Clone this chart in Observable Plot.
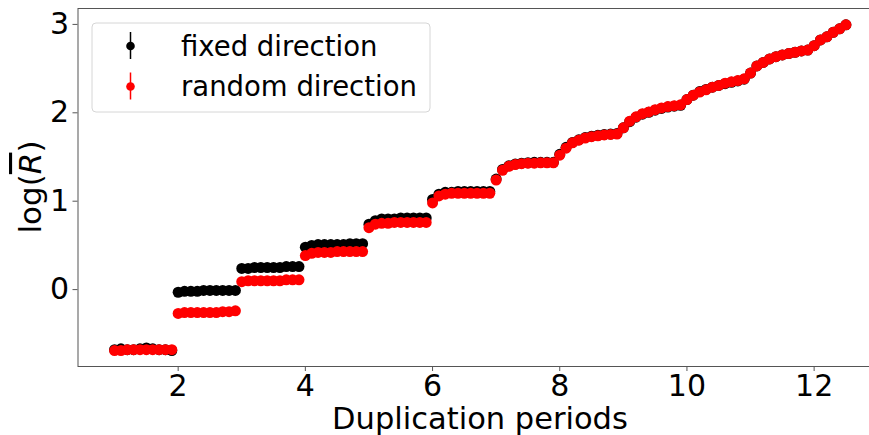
<!DOCTYPE html>
<html><head><meta charset="utf-8">
<script src="https://cdn.jsdelivr.net/npm/d3@7"></script>
<script src="https://cdn.jsdelivr.net/npm/@observablehq/plot@0.6"></script>
<style>html,body{margin:0;padding:0;overflow:hidden;background:#fff;}</style>
</head><body><div id="chart"></div>
<script>
const periods = [
  1.0,1.1,1.2,1.3,1.4,1.5,1.6,1.7,1.8,1.9,
  2.0,2.1,2.2,2.3,2.4,2.5,2.6,2.7,2.8,2.9,
  3.0,3.1,3.2,3.3,3.4,3.5,3.6,3.7,3.8,3.9,
  4.0,4.1,4.2,4.3,4.4,4.5,4.6,4.7,4.8,4.9,
  5.0,5.1,5.2,5.3,5.4,5.5,5.6,5.7,5.8,5.9,
  6.0,6.1,6.2,6.3,6.4,6.5,6.6,6.7,6.8,6.9,
  7.0,7.1,7.2,7.3,7.4,7.5,7.6,7.7,7.8,7.9,
  8.0,8.1,8.2,8.3,8.4,8.5,8.6,8.7,8.8,8.9,
  9.0,9.1,9.2,9.3,9.4,9.5,9.6,9.7,9.8,9.9,
  10.0,10.1,10.2,10.3,10.4,10.5,10.6,10.7,10.8,10.9,
  11.0,11.1,11.2,11.3,11.4,11.5,11.6,11.7,11.8,11.9,
  12.0,12.1,12.2,12.3,12.4,12.5
];
const fixedDirection = [
  -0.68,-0.67,-0.68,-0.68,-0.67,-0.66,-0.67,-0.68,-0.68,-0.69,
  -0.03,-0.02,-0.02,-0.02,-0.01,-0.01,-0.01,-0.01,-0.01,-0.01,
  0.24,0.24,0.25,0.25,0.25,0.25,0.25,0.26,0.26,0.26,
  0.48,0.50,0.51,0.51,0.51,0.51,0.51,0.52,0.52,0.52,
  0.74,0.78,0.80,0.80,0.80,0.81,0.81,0.81,0.81,0.81,
  1.02,1.08,1.10,1.10,1.11,1.11,1.11,1.11,1.11,1.11,
  1.25,1.36,1.40,1.42,1.43,1.435,1.44,1.44,1.44,1.44,
  1.53,1.61,1.665,1.695,1.72,1.735,1.745,1.755,1.76,1.765,
  1.83,1.90,1.95,1.985,2.005,2.03,2.05,2.065,2.075,2.085,
  2.15,2.20,2.24,2.265,2.29,2.31,2.33,2.345,2.36,2.38,
  2.45,2.53,2.57,2.61,2.635,2.655,2.67,2.685,2.70,2.71,
  2.76,2.825,2.86,2.91,2.95,2.995
];
const randomDirection = [
  -0.69,-0.69,-0.68,-0.68,-0.68,-0.68,-0.68,-0.68,-0.68,-0.68,
  -0.27,-0.26,-0.26,-0.26,-0.26,-0.26,-0.26,-0.25,-0.25,-0.24,
  0.09,0.10,0.10,0.10,0.10,0.10,0.10,0.11,0.11,0.11,
  0.385,0.41,0.42,0.42,0.42,0.43,0.43,0.43,0.43,0.43,
  0.70,0.74,0.75,0.75,0.76,0.76,0.76,0.76,0.76,0.76,
  0.98,1.06,1.08,1.09,1.09,1.09,1.09,1.09,1.09,1.09,
  1.24,1.35,1.395,1.415,1.425,1.43,1.43,1.435,1.435,1.435,
  1.52,1.60,1.66,1.69,1.715,1.73,1.74,1.75,1.755,1.76,
  1.83,1.905,1.955,1.99,2.01,2.035,2.055,2.07,2.08,2.09,
  2.15,2.20,2.235,2.26,2.29,2.31,2.335,2.35,2.365,2.385,
  2.45,2.53,2.57,2.61,2.635,2.655,2.67,2.685,2.70,2.71,
  2.76,2.825,2.86,2.91,2.95,2.995
];
const xTicks = [2,4,6,8,10,12];
const yTicks = [0,1,2,3];
const seriesNames = ["fixed direction", "random direction"];
const seriesColors = ["black", "#ff0000"];

const rows = periods.map((p, i) => ({p, fixed: fixedDirection[i], random: randomDirection[i]}));

const W = 869, H = 435;
const FONT = "DejaVu Sans";
const plot = Plot.plot({
  width: W, height: H,
  marginLeft: 77.5, marginRight: -13, marginTop: 8, marginBottom: 69,
  style: {fontFamily: FONT, background: "white", overflow: "hidden"},
  x: {domain: [0.425, 13.075]},
  y: {domain: [-0.87, 3.18]},
  marks: [
    Plot.dot(rows, {x: "p", y: "fixed", r: 5.5, fill: seriesColors[0], stroke: "none"}),
    Plot.dot(rows, {x: "p", y: "random", r: 5.5, fill: seriesColors[1], stroke: "none"}),
    Plot.frame({stroke: "#555", strokeWidth: 1}),
    Plot.axisX(xTicks, {tickSize: 5, tickPadding: 3, fontSize: 30, stroke: "#555", fill: "black", label: null, tickFormat: d3.format("d")}),
    Plot.axisY(yTicks, {tickSize: 5, tickPadding: 4, fontSize: 30, stroke: "#555", fill: "black", label: null, tickFormat: d3.format("d")})
  ]
});
document.getElementById("chart").appendChild(plot);

const svg = d3.select(plot);
// x label
svg.append("text")
  .attr("x", 480).attr("y", 429)
  .attr("text-anchor", "middle")
  .attr("font-family", FONT).attr("font-size", 30.5).attr("fill", "black")
  .text("Duplication periods");
// y label
const yl = svg.append("text")
  .attr("transform", "translate(41,187) rotate(-90)")
  .attr("text-anchor", "middle")
  .attr("font-family", FONT).attr("font-size", 31).attr("fill", "black");
yl.append("tspan").text("log(");
yl.append("tspan").attr("font-style", "italic").style("text-decoration", "overline").text("R");
yl.append("tspan").text(")");

// legend
const lg = svg.append("g");
lg.append("rect").attr("x", 92).attr("y", 23).attr("width", 338).attr("height", 89)
  .attr("rx", 4).attr("fill", "white").attr("fill-opacity", 0.8)
  .attr("stroke", "#d6d6d6").attr("stroke-width", 1);
seriesNames.forEach((name, i) => {
  const cy = 46 + i * 40.5;
  lg.append("line").attr("x1", 130.5).attr("x2", 130.5).attr("y1", cy - 14).attr("y2", cy + 13)
    .attr("stroke", seriesColors[i]).attr("stroke-width", 1.5);
  lg.append("circle").attr("cx", 130.5).attr("cy", cy).attr("r", 4.3).attr("fill", seriesColors[i]);
  lg.append("text").attr("x", 181).attr("y", cy + 9.5)
    .attr("text-anchor", "start")
    .attr("font-family", FONT).attr("font-size", 27.5).attr("fill", "black")
    .text(name);
});
</script>
</body></html>
